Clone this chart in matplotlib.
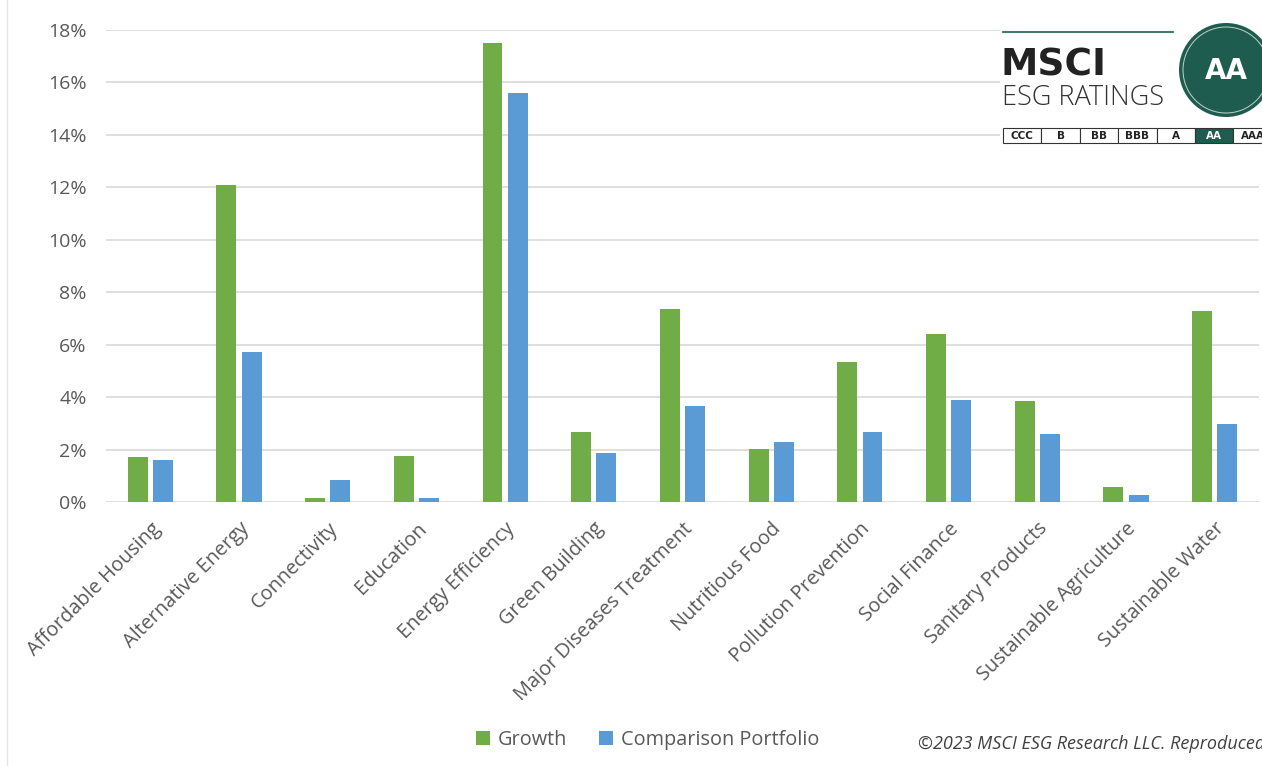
import matplotlib
matplotlib.use("Agg")
import matplotlib.pyplot as plt
from matplotlib.patches import Rectangle, Circle
import numpy as np

# chart data (percent)
categories = ["Affordable Housing", "Alternative Energy", "Connectivity", "Education",
              "Energy Efficiency", "Green Building", "Major Diseases Treatment",
              "Nutritious Food", "Pollution Prevention", "Social Finance",
              "Sanitary Products", "Sustainable Agriculture", "Sustainable Water"]
growth = [1.72, 12.1, 0.15, 1.76, 17.5, 2.67, 7.37, 2.02, 5.34, 6.41, 3.85, 0.57, 7.29]
comparison = [1.62, 5.72, 0.84, 0.15, 15.6, 1.87, 3.66, 2.29, 2.67, 3.89, 2.6, 0.27, 2.98]
yticks = [0, 2, 4, 6, 8, 10, 12, 14, 16, 18]
ratings = ["CCC", "B", "BB", "BBB", "A", "AA", "AAA"]
current_rating = "AA"

GREEN = "#70AD47"
BLUE = "#5B9BD5"
DARK = "#1D5C4F"
FONT = "Open Sans"

W, H = 1262, 766
fig = plt.figure(figsize=(W / 100, H / 100), dpi=100)
fig.patch.set_facecolor("white")

ax = fig.add_axes([106 / W, 1 - 502 / H, (1259 - 106) / W, (502 - 30) / H])
x = np.arange(len(categories))
bw = 0.225
ax.bar(x - 0.142, growth, bw, color=GREEN, label="Growth", zorder=3)
ax.bar(x + 0.142, comparison, bw, color=BLUE, label="Comparison Portfolio", zorder=3)

ax.set_xlim(-0.5, len(categories) - 0.5)
ax.set_ylim(0, 18)
ax.set_yticks(yticks)
ax.set_yticklabels([f"{t}%" for t in yticks], fontsize=14, color="#595959", family=FONT)
ax.set_xticks(x)
ax.set_xticklabels(categories, rotation=45, ha="right", rotation_mode="anchor",
                   fontsize=14.3, color="#595959", family=FONT)
ax.tick_params(axis="x", length=0, pad=12)
ax.tick_params(axis="y", length=0, pad=14)
ax.grid(axis="y", color="#D9D9D9", linewidth=1.2, zorder=0)
for s in ax.spines.values():
    s.set_visible(False)

# legend
leg = fig.legend(loc="center", bbox_to_anchor=(648 / W, 1 - 740 / H), ncol=2, frameon=False,
                 prop={"family": FONT, "size": 14.3}, handlelength=0.7, handleheight=0.7,
                 handletextpad=0.4, columnspacing=1.6)
for t in leg.get_texts():
    t.set_color("#595959")

# overlay in pixel coordinates for logo and notes
ov = fig.add_axes([0, 0, 1, 1], facecolor="none")
ov.set_xlim(0, W)
ov.set_ylim(H, 0)
ov.axis("off")

ov.plot([7, 7], [0, H], color="#E6E6E6", lw=1)
ov.text(918, 744, "©2023 MSCI ESG Research LLC. Reproduced", fontsize=13, style="italic",
        color="#404040", family=FONT, va="center", ha="left")

# MSCI ESG ratings badge
ov.add_patch(Rectangle((1000, 22), 262, 124, facecolor="white", edgecolor="none", zorder=5))
ov.plot([1003, 1173], [32, 32], color=DARK, lw=1.2, zorder=6)
ov.text(1001, 66, "MSCI", fontsize=27, fontweight="bold", color="#222222", family="DejaVu Sans",
        va="center", ha="left", zorder=6)
ov.text(1002, 98, "ESG RATINGS", fontsize=19.5, fontweight="light", color="#333333", family=FONT,
        va="center", ha="left", zorder=6)
ov.add_patch(Circle((1226, 70), 47, facecolor=DARK, edgecolor="none", zorder=6))
ov.add_patch(Circle((1226, 70), 43, facecolor="none", edgecolor="#BFD3CC", lw=0.7, zorder=7))
ov.text(1226, 71, current_rating, fontsize=20, fontweight="bold", color="white",
        family="DejaVu Sans", ha="center", va="center", zorder=8)
cell = 38.4
for i, r in enumerate(ratings):
    x0 = 1003 + i * cell
    on = r == current_rating
    ov.add_patch(Rectangle((x0, 128), cell, 15, facecolor=DARK if on else "white",
                           edgecolor="#333333", lw=0.8, zorder=6))
    ov.text(x0 + cell / 2, 136, r, fontsize=7.5, fontweight="bold",
            color="white" if on else "#222222", family="DejaVu Sans",
            ha="center", va="center", zorder=7)

fig.savefig("out.png", dpi=100)
